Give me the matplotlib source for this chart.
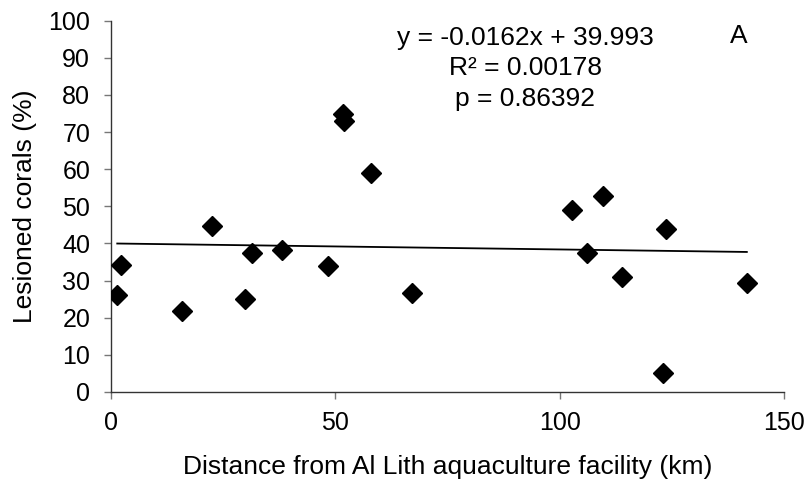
import matplotlib
matplotlib.use("Agg")
import matplotlib.pyplot as plt

plt.rcParams['font.family'] = ['Liberation Sans', 'DejaVu Sans']

# distance (km) and lesioned corals (%)
distance = [1.4, 2.2, 15.9, 22.5, 29.9, 31.4, 38.2, 48.3, 51.8, 52.0,
            57.9, 67.1, 102.7, 106.0, 109.6, 113.8, 123.0, 123.6, 141.7]
lesioned = [26.1, 34.2, 21.7, 44.8, 25.0, 37.5, 38.2, 34.0, 74.8, 73.0,
            58.9, 26.7, 49.0, 37.3, 52.7, 31.0, 5.1, 43.9, 29.4]

slope = -0.0162
intercept = 39.993
r2_text = "R\u00b2 = 0.00178"
p_text = "p = 0.86392"

fig = plt.figure(figsize=(8.1, 4.82), dpi=100)
ax = fig.add_axes([0.137, 0.187, 0.831, 0.770])

ax.plot(distance, lesioned, linestyle='none', marker='D', markersize=10.5,
        color='black', zorder=3)

x0, x1 = min(distance), max(distance)
ax.plot([x0, x1], [slope * x0 + intercept, slope * x1 + intercept],
        color='black', linewidth=1.3)

ax.set_xlim(0, 150)
ax.set_ylim(0, 100)
ax.set_xticks([0, 50, 100, 150])
ax.set_yticks(range(0, 101, 10))

for s in ['top', 'right']:
    ax.spines[s].set_visible(False)
for s in ['left', 'bottom']:
    ax.spines[s].set_linewidth(1.0)
    ax.spines[s].set_color('#333333')
ax.tick_params(axis='both', direction='out', length=5, width=1,
               color='#777777', labelsize=18)
ax.tick_params(axis='y', pad=10)
ax.tick_params(axis='x', pad=9)

ax.set_xlabel("Distance from Al Lith aquaculture facility (km)", fontsize=19, labelpad=14)
ax.set_ylabel("Lesioned corals (%)", fontsize=19, labelpad=8)

fs = 19
ax.text(92.3, 93.4, "y = %.4fx + %.3f" % (slope, intercept), fontsize=fs,
        ha='center', va='baseline')
ax.text(92.3, 85.4, r2_text, fontsize=fs, ha='center', va='baseline')
ax.text(92.3, 77.0, p_text, fontsize=fs, ha='center', va='baseline')
ax.text(139.9, 94.0, "A", fontsize=fs, ha='center', va='baseline')

fig.savefig("out.png", dpi=100)
